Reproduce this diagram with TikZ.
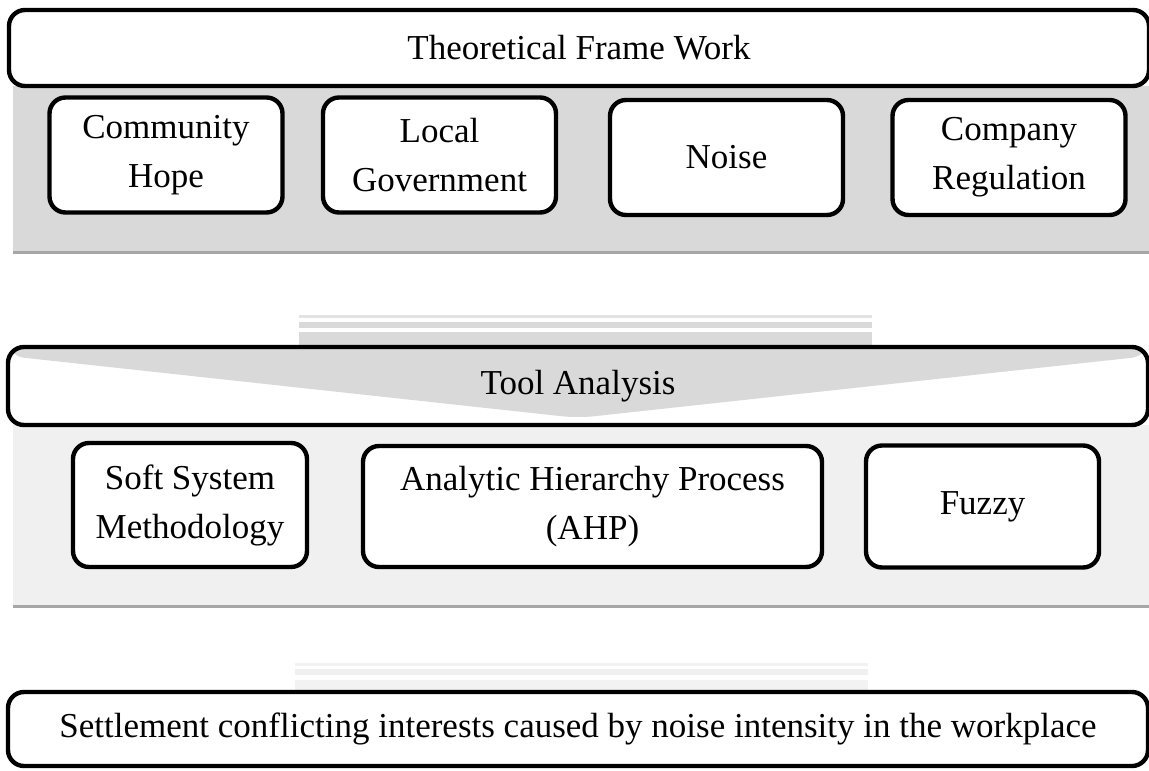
\documentclass[tikz,border=0pt]{standalone}
\usepackage{fontspec}
\setmainfont{Liberation Serif}
\tikzset{
  box/.style={draw, line width=2.2pt, rounded corners=8pt, fill=white, align=center, inner sep=0pt},
  wide/.style={box, minimum width=570pt},
  item/.style={box, minimum width=116.5pt},
}
\begin{document}
\begin{tikzpicture}[x=0.5pt, y=-0.5pt, font=\fontsize{17.5}{24.5}\selectfont]
  \useasboundingbox (0,0) rectangle (1149,770);
  % panels
  \fill[gray!30] (13,86) rectangle (1149,252);
  \draw[gray!70, line width=1.5pt] (13,252) -- (1149,252);
  \fill[gray!12] (13,425) rectangle (1149,606);
  \draw[gray!70, line width=1.5pt] (13,606) -- (1149,606);
  % arrow stems
  \foreach \a/\b/\c in {315/318/22, 322/328/30, 332/347/30}
    \fill[gray!\c] (299,\a) rectangle (872,\b);
  \foreach \a/\b/\c in {663/666/10, 669/675/12, 680/692/10}
    \fill[gray!\c] (295,\a) rectangle (868,\b);
  % boxes
  \node[wide, minimum height=38pt] (frame) at (579,48) {Theoretical Frame Work};
  \node[item, minimum height=57.5pt] (hope) at (166,155) {Community\\Hope};
  \node[item, minimum height=57.5pt] (gov) at (439.5,155) {Local\\Government};
  \node[item, minimum height=57.5pt] (noise) at (726.5,157.5) {Noise};
  \node[item, minimum height=57.5pt] (reg) at (1009,157.5) {Company\\Regulation};
  \node[wide, minimum height=39pt, path picture={
      \fill[gray!30] (path picture bounding box.north west)
        -- ([yshift=-4.5pt]path picture bounding box.north west)
        -- ([yshift=3.5pt]path picture bounding box.south)
        -- ([yshift=-4.5pt]path picture bounding box.north east)
        -- (path picture bounding box.north east) -- cycle;}]
    (tool) at (578,386) {Tool Analysis};
  \node[item, minimum width=117pt, minimum height=62pt] (ssm) at (190,505) {Soft System\\Methodology};
  \node[item, minimum width=229.5pt, minimum height=60.5pt] (ahp) at (592.5,506.5) {Analytic Hierarchy Process\\(AHP)};
  \node[item, minimum height=61pt] (fuzzy) at (982.5,506.5) {Fuzzy};
  \node[wide, minimum height=37pt] (result) at (578,729) {Settlement conflicting interests caused by noise intensity in the workplace};
\end{tikzpicture}
\end{document}
